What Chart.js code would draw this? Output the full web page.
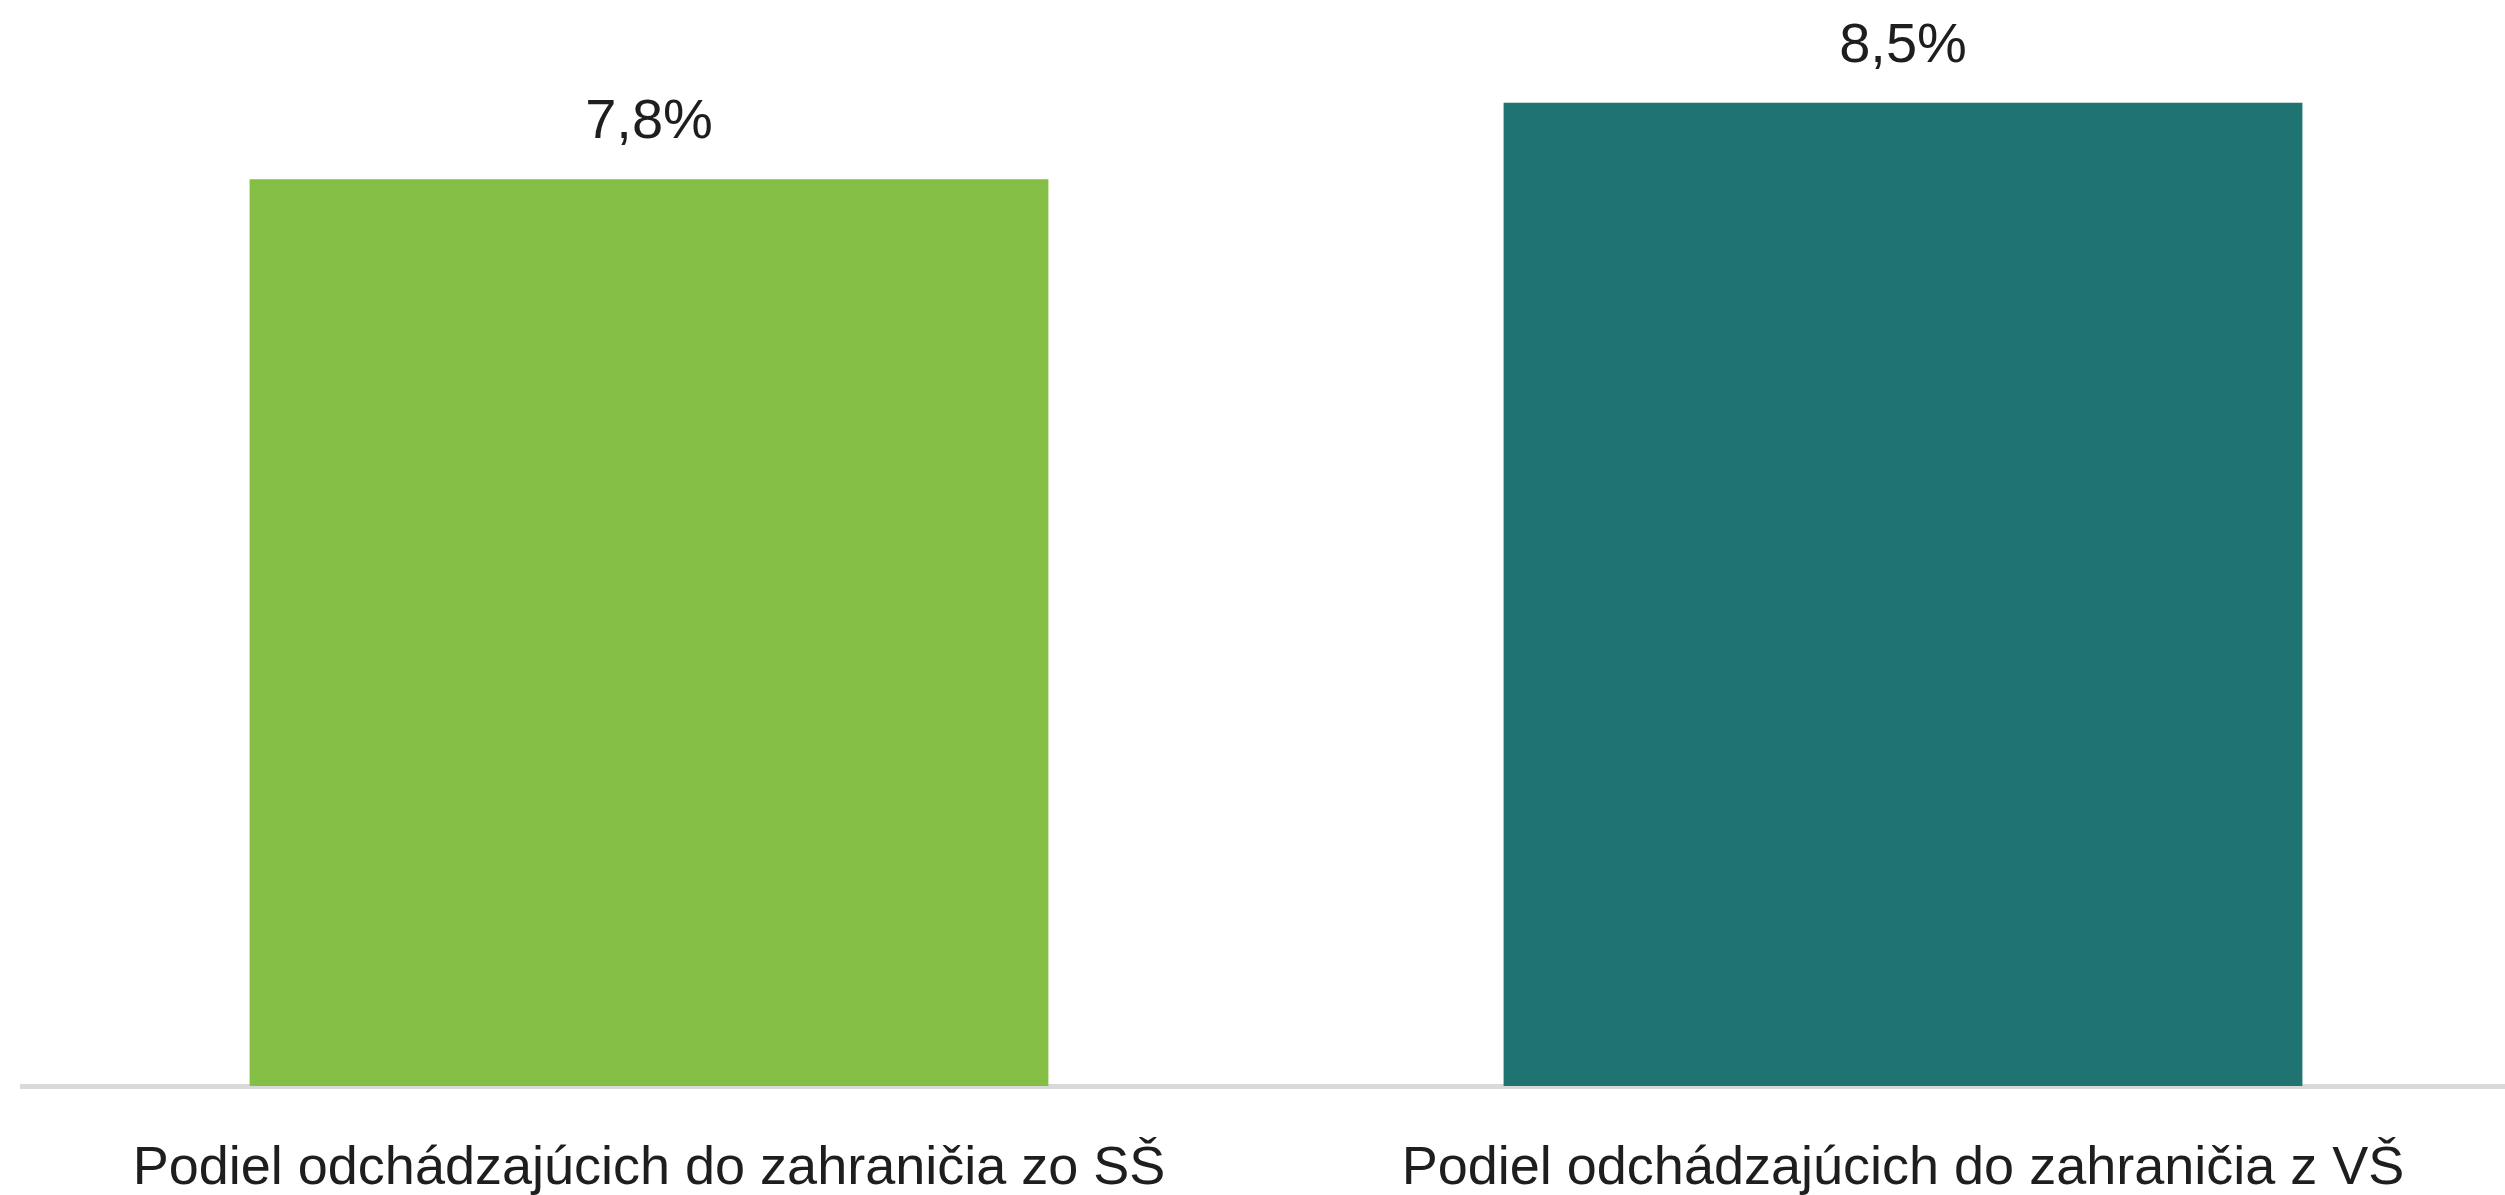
<!DOCTYPE html>
<html lang="sk">
<head>
<meta charset="utf-8">
<title>Podiel odchádzajúcich do zahraničia</title>
<script src="https://cdn.jsdelivr.net/npm/chart.js@4/dist/chart.umd.min.js"></script>
<style>
    html, body { margin: 0; padding: 0; background: #fff; overflow: hidden; }
    #wrap { width: 2532px; height: 1195px; position: relative; }
</style>
</head>
<body>
<div id="wrap"><canvas id="chart"></canvas></div>
<script>
// Data (bar heights; labels show one decimal)
const categories = ['Podiel odchádzajúcich do zahraničia zo SŠ', 'Podiel odchádzajúcich do zahraničia z VŠ'];
const values = [7.84, 8.5];
const barColors = ['#84BE45', '#1F7472'];

const FONT = "'Liberation Sans Narrow', 'Arial Narrow', 'Liberation Sans', sans-serif";

const fmt = (v) => v.toFixed(1).replace('.', ',') + '%';

// draws the value above each bar
const valueLabels = {
    id: 'valueLabels',
    afterDatasetsDraw(chart) {
        const ctx = chart.ctx;
        const meta = chart.getDatasetMeta(0);
        ctx.save();
        ctx.font = '56px ' + FONT;
        ctx.fillStyle = '#1E1E1E';
        ctx.textAlign = 'center';
        ctx.textBaseline = 'alphabetic';
        meta.data.forEach((bar, i) => {
            ctx.fillText(fmt(values[i]), bar.x, bar.y - 41);
        });
        ctx.restore();
    }
};

new Chart(document.getElementById('chart'), {
    type: 'bar',
    data: {
        labels: categories,
        datasets: [{
            data: values,
            backgroundColor: barColors,
            borderWidth: 0,
            barPercentage: 0.637,
            categoryPercentage: 1.0
        }]
    },
    options: {
        responsive: true,
        maintainAspectRatio: false,
        animation: false,
        layout: { padding: { top: 45, left: 22, right: 2, bottom: 0 } },
        plugins: {
            legend: { display: false },
            tooltip: { enabled: false }
        },
        scales: {
            x: {
                grid: { display: false, drawTicks: false },
                border: { display: true, color: '#D9D9D9', width: 5 },
                ticks: {
                    color: '#1E1E1E',
                    padding: 56,
                    maxRotation: 0,
                    autoSkip: false,
                    font: { family: FONT, size: 54, lineHeight: 1 }
                },
                // keep the plot bottom where the reference has it
                afterFit(scale) { scale.height = 109; }
            },
            y: {
                display: false,
                min: 0,
                max: 9
            }
        }
    },
    plugins: [valueLabels]
});
</script>
</body>
</html>
